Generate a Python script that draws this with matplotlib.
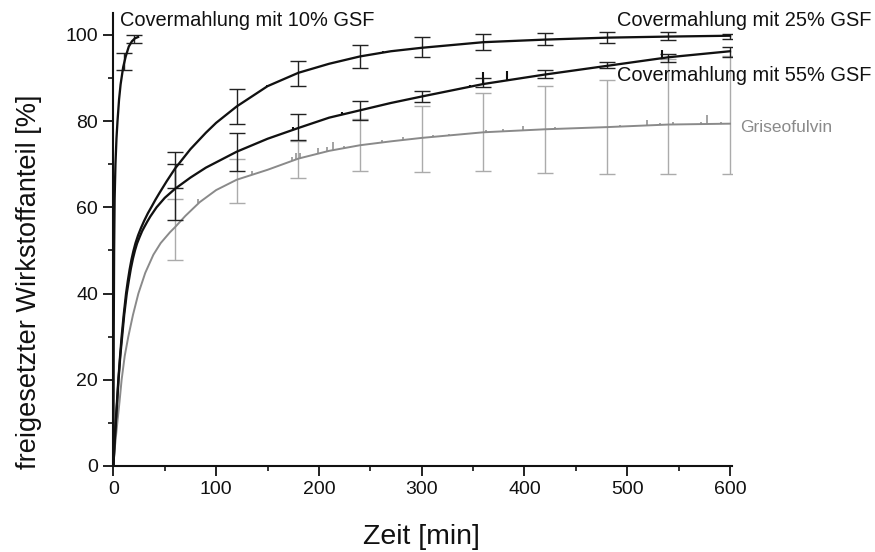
import numpy as np
import matplotlib
matplotlib.use("Agg")
import matplotlib.pyplot as plt
from matplotlib.ticker import MultipleLocator

# --- release profiles (time in min, released drug fraction in %) ---
t_10 = [0, 0.3, 0.7, 1.2, 2, 3, 4, 5.5, 7, 9.5, 12, 15, 18, 21, 24]
v_10 = [0, 30, 50, 62, 70, 76, 80, 85, 88.5, 92.5, 95, 97.3, 98.5, 99.2, 99.5]

t_25 = [0, 1, 2.2, 3.5, 4.8, 6.5, 8, 10, 12.3, 14, 15.8, 17.6, 19.4, 21.5, 24, 27, 30,
        33.5, 37.3, 41, 45, 52, 60, 75, 90, 100, 120, 150, 180, 210, 240, 270, 300,
        360, 420, 480, 540, 600]
v_25 = [0, 5, 10, 15, 20, 25.5, 30, 35, 40, 42.9, 45.6, 47.9, 49.8, 51.7, 53.5, 55.3, 56.9,
        58.6, 60.2, 61.8, 63.4, 66.1, 69.0, 73.5, 77.3, 79.6, 83.4, 88.1, 91.2, 93.3, 95.0,
        96.2, 97.0, 98.3, 98.9, 99.35, 99.6, 99.8]

t_55 = [0, 1, 2.4, 3.7, 5, 6.7, 8.5, 10.5, 13, 15, 17, 19, 21, 23, 25.5, 28, 30, 33,
        36, 42, 50, 60, 75, 90, 120, 150, 180, 210, 240, 270, 300, 360, 420, 480, 540, 600]
v_55 = [0, 4.5, 10, 15, 20, 25.5, 30, 35, 40, 43.0, 45.8, 48.1, 50, 51.6, 53.1, 54.5, 55.4,
        56.7, 57.9, 60, 62.2, 64.3, 66.9, 69.2, 72.9, 75.9, 78.4, 80.8, 82.5, 84.2, 85.7,
        88.6, 90.8, 92.8, 94.8, 96.2]

t_gsf = [0, 1.5, 3.8, 6, 8, 11, 14.5, 19, 24.3, 31, 38.9, 46, 55, 60, 70, 84,
         100, 120, 150, 180, 210, 240, 270, 300, 360, 420, 480, 540, 600]
v_gsf = [0, 4.5, 10, 15, 20, 25.5, 30, 35, 40, 44.8, 49.0, 51.7, 54.2, 55.4, 58.0, 61.2,
         64.0, 66.4, 68.7, 71.3, 73.1, 74.4, 75.3, 76.1, 77.4, 78.1, 78.6, 79.2, 79.4]

# --- sampled means with standard deviations ---
te_10 = [10, 20]
m_10 = [93.8, 99.0]
s_10 = [1.9, 0.9]

te_long = [60, 120, 180, 240, 300, 360, 420, 480, 540, 600]
m_25 = [68.6, 83.4, 91.0, 95.0, 97.2, 98.35, 99.05, 99.35, 99.7, 99.7]
s_25 = [4.2, 4.0, 2.9, 2.65, 2.3, 1.95, 1.45, 1.25, 0.9, 0.6]
m_55 = [63.5, 72.85, 78.6, 82.5, 85.7, 88.9, 90.9, 92.95, 94.65, 96.05]
s_55 = [6.5, 4.45, 2.95, 2.2, 1.3, 1.1, 0.9, 0.75, 0.95, 1.15]
m_gsf = [54.8, 66.1, 71.1, 74.4, 75.8, 77.4, 78.05, 78.6, 79.2, 79.4]
s_gsf_lo = [7.1, 5.05, 4.2, 6.0, 7.6, 9.0, 10.05, 10.9, 11.5, 11.7]
s_gsf_hi = [7.1, 5.05, 4.2, 6.0, 7.6, 9.0, 10.05, 10.9, 15.3, 15.6]

# --- short detector spikes (time, height above the trace) ---
sp_55_t = [175, 222, 347, 360, 383, 534]
sp_55_h = [0.6, 0.6, 0.4, 2.7, 2.2, 1.9]
sp_25_t = [149, 262]
sp_25_h = [0.4, 0.3]
sp_gsf_t = [82.7, 134.6, 174, 178, 181.6, 199.5, 207.6, 213.5, 224, 261, 282, 292, 311,
            327, 363, 379, 398.7, 430, 493, 519.7, 532, 545, 572, 577.5, 591]
sp_gsf_h = [1.1, 0.9, 0.8, 1.5, 1.2, 1.2, 1.1, 1.8, 0.4, 0.5, 0.8, 0.3, 0.4,
            0.3, 0.5, 0.5, 1.0, 0.4, 0.4, 1.2, 0.5, 0.5, 0.5, 2.2, 0.4]

labels = ["Covermahlung mit 10% GSF", "Covermahlung mit 25% GSF",
          "Covermahlung mit 55% GSF", "Griseofulvin"]

BLACK = "#111111"
GREY = "#8a8a8a"
GREY_BAR = "#ababab"

font = ["Liberation Sans", "DejaVu Sans"]

fig = plt.figure(figsize=(8.75, 5.52), dpi=100)
ax = fig.add_axes([0.1296, 0.1558, 0.7070, 0.8201])

# error bars first so the traces sit on top
ax.errorbar(te_long, m_gsf, yerr=[s_gsf_lo, s_gsf_hi], fmt="none", ecolor=GREY_BAR,
            elinewidth=1.0, capsize=6, capthick=1.0, zorder=1)
for te, m, s in [(te_long, m_25, s_25), (te_long, m_55, s_55), (te_10, m_10, s_10)]:
    ax.errorbar(te, m, yerr=s, fmt="none", ecolor="#222222", elinewidth=1.0,
                capsize=6, capthick=1.0, zorder=3)

ax.plot(t_gsf, v_gsf, color=GREY, lw=1.4, zorder=2, solid_joinstyle="round")
ax.plot(t_55, v_55, color=BLACK, lw=1.65, zorder=4, solid_joinstyle="round")
ax.plot(t_25, v_25, color=BLACK, lw=1.65, zorder=4, solid_joinstyle="round")
ax.plot(t_10, v_10, color=BLACK, lw=1.65, zorder=4, solid_joinstyle="round")

for ts, hs, tc, vc, col, lw in [(sp_gsf_t, sp_gsf_h, t_gsf, v_gsf, GREY, 1.1),
                                (sp_55_t, sp_55_h, t_55, v_55, BLACK, 1.5),
                                (sp_25_t, sp_25_h, t_25, v_25, BLACK, 1.3)]:
    base = np.interp(ts, tc, vc)
    ax.vlines(ts, base, base + np.asarray(hs), colors=col, lw=lw, zorder=4)

ax.set_xlim(0, 602)
ax.set_ylim(0, 105)
ax.xaxis.set_major_locator(MultipleLocator(100))
ax.xaxis.set_minor_locator(MultipleLocator(50))
ax.yaxis.set_major_locator(MultipleLocator(20))
ax.yaxis.set_minor_locator(MultipleLocator(10))

for side in ("top", "right"):
    ax.spines[side].set_visible(False)
for side in ("left", "bottom"):
    ax.spines[side].set_linewidth(1.5)
    ax.spines[side].set_color(BLACK)

ax.tick_params(which="major", direction="out", length=7, width=1.3, color=BLACK, pad=4)
ax.tick_params(which="minor", direction="out", length=3.5, width=1.2, color=BLACK)
for lab in ax.get_xticklabels() + ax.get_yticklabels():
    lab.set_fontfamily(font)
    lab.set_fontsize(14)
    lab.set_color(BLACK)

fig.text(421 / 875, 1 - 537 / 552, "Zeit [min]", ha="center", va="center",
         fontsize=20.5, family=font, color=BLACK)
fig.text(29 / 875, 1 - 282 / 552, "freigesetzter Wirkstoffanteil [%]", ha="center",
         va="center", rotation=90, fontsize=19.5, family=font, color=BLACK)

ax.text(6.5, 103.3, labels[0], ha="left", va="center", fontsize=14.4,
        family=font, color=BLACK, clip_on=False)
ax.text(490, 103.3, labels[1], ha="left", va="center", fontsize=14.4,
        family=font, color=BLACK, clip_on=False)
ax.text(490, 90.6, labels[2], ha="left", va="center", fontsize=14.4,
        family=font, color=BLACK, clip_on=False)
ax.text(610, 78.6, labels[3], ha="left", va="center", fontsize=12.5,
        family=font, color=GREY, clip_on=False)

fig.savefig("out.png", dpi=100)
